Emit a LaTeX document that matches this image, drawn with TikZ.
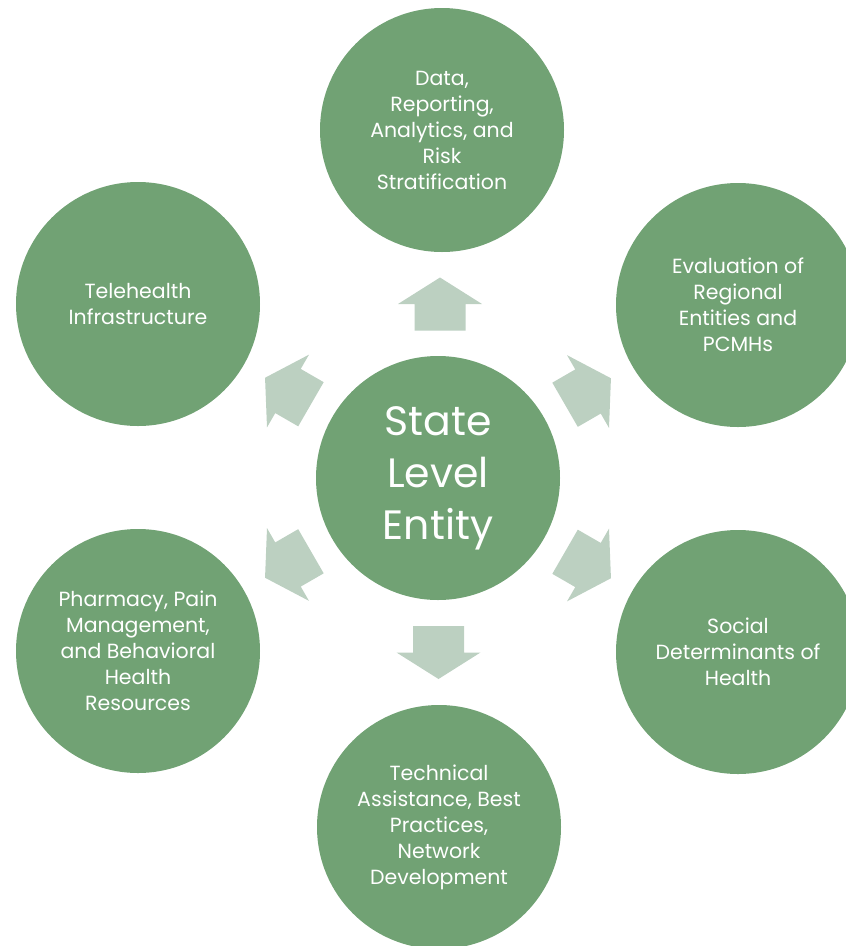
\documentclass[tikz,border=0pt]{standalone}
\usepackage{fontspec}
\setmainfont{Poppins}
\usetikzlibrary{calc}

\definecolor{circgreen}{RGB}{113,162,116}
\definecolor{arrowgreen}{RGB}{188,208,193}

\tikzset{
	bubble/.style={circle, fill=circgreen, minimum size=244pt, inner sep=0pt,
		text=white, align=center, font=\fontsize{20.5}{26}\selectfont},
	hub/.style={bubble, font=\fontsize{41}{52}\selectfont},
	blockarrow/.style={fill=arrowgreen}
}

\begin{document}
\begin{tikzpicture}[x=1pt, y=-1pt]
	\useasboundingbox (0,0) rectangle (846,946);
	\clip (0,0) rectangle (846,946);
	\node[hub] (ent) at (438,478) {State\\Level\\Entity};
	\node[bubble] (dat) at (442,130) {Data,\\Reporting,\\Analytics, and\\Risk\\Stratification};
	\node[bubble] (eva) at (738,305) {Evaluation of\\Regional\\Entities and\\PCMHs};
	\node[bubble] (soc) at (738,652) {Social\\Determinants of\\Health};
	\node[bubble] (tec) at (439,827) {Technical\\Assistance, Best\\Practices,\\Network\\Development};
	\node[bubble] (pha) at (138,651) {Pharmacy, Pain\\Management,\\and Behavioral\\Health\\Resources};
	\node[bubble] (tel) at (138,304) {Telehealth\\Infrastructure};
	\foreach \o/\a in {dat/90, eva/30, soc/-30, tec/-90, pha/-150, tel/150}
	{
		\coordinate (m) at ($(ent)!0.5!(\o)$);
		\fill[blockarrow, shift={(m)}, rotate=\a] (-26.5,-25.5) -- (0,-25.5) -- (0,-42)
			-- (26.5,0) -- (0,42) -- (0,25.5) -- (-26.5,25.5) -- cycle;
	}
\end{tikzpicture}
\end{document}
